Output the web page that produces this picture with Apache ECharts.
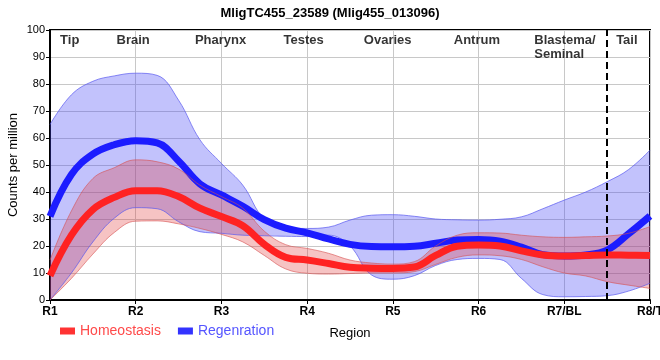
<!DOCTYPE html>
<html><head><meta charset="utf-8">
<script src="https://cdn.jsdelivr.net/npm/echarts@6/dist/echarts.min.js"></script>
<style>html,body{margin:0;padding:0;background:#fff}#c{width:660px;height:360px}</style>
</head><body><div id="c"></div>
<script>
const titleText = 'MligTC455_23589 (Mlig455_013096)';
const xTickLabels = ['R1','R2','R3','R4','R5','R6','R7/BL','R8/T'];
const xPos = [0,0.25,0.5,0.75,1,1.25,1.5,1.75,2,2.25,2.5,2.75,3,3.25,3.5,3.75,4,4.25,4.5,4.75,5,5.25,5.5,5.75,6,6.25,6.5,6.75,7];

const homeoMean  = [9,24,33.5,38,40.5,40.5,38.3,34,30.9,27.5,20.6,15.8,14.8,13.5,12.1,11.8,11.7,12.2,16.5,19.9,20.4,20,18.2,16.7,16.3,16.5,16.7,16.6,16.5];
const homeoUpper = [14.8,33,45,49,51.9,51.2,48.5,42.5,38.3,34,25.5,20.5,19.1,17.3,14.8,13.7,13.3,14.2,20,24,24.9,24.8,24,23.4,23.2,23.4,23.7,24.7,27.2];
const homeoLower = [0,8,17,25,29.2,29.3,28.2,26.5,24.3,21.5,16.5,11.5,9.9,9.6,9.8,10,10,10.5,13.2,15.8,16.7,16.4,15,12.3,10,8.9,6.8,5.5,4.3];

const regenMean  = [31,46.5,54,57.5,59,58.2,51.5,43,38.9,34.7,29.8,26.6,24.9,22.6,20.6,19.8,19.7,19.9,21,22.2,22.4,21.8,19.6,16.8,16.3,16.7,18.5,24.5,31.1];
const regenUpper = [65,76,81,83,84,83.2,74,59.3,50.6,42.5,30,27,26.5,27,29.6,31.4,31.6,31,30,29.7,29.6,29.9,30.8,33.8,37,40,43.8,48.3,55.5];
const regenLower = [0,10,21.5,30.3,34.2,33.8,29,25.3,24.7,24,23.8,23.6,23.5,24,20,9.3,7.7,9,12.8,15,15.4,15,8,2,1.2,1.3,1.6,3.3,6.2];

const regionNames = ['Tip','Brain','Pharynx','Testes','Ovaries','Antrum','Blastema/\nSeminal','Tail'];
const regionX = [0.23,0.97,1.99,2.96,3.94,4.98,5.65,6.73];
const regionY = [96.3,96.3,96.3,96.3,96.3,96.3,98.9,96.3];
const boundaryX = 6.5;

const cats = xPos.map(String);
const diff = (u,l) => u.map((v,i)=>+(v - l[i]).toFixed(2));

const RED = '#ff2222', BLUE = '#1c1cff';
const RECT = 'path://M0,0H15V7H0Z';

function band(name, lower, upper, stack, fill, edge){
  return [
    {name: name, type:'line', stack: stack, data: lower, smooth:0.4, symbol:'none',
     lineStyle:{width:1, color:edge}, areaStyle:{opacity:0}, silent:true},
    {name: name, type:'line', stack: stack, data: diff(upper,lower), smooth:0.4, symbol:'none',
     lineStyle:{width:1, color:edge}, areaStyle:{color:fill}, silent:true}
  ];
}

const isMajor = (idx) => Number.isInteger(xPos[idx]);

const chart = echarts.init(document.getElementById('c'));
const option = {
  animation:false,
  backgroundColor:'#fff',
  title:{text:titleText, left:'center', top:2,
    textStyle:{fontFamily:'Liberation Sans', fontWeight:'bold', fontSize:13, color:'#000'}},
  legend:{
    left:55, top:319, icon:RECT, itemWidth:15, itemHeight:7, itemGap:17,
    textStyle:{fontFamily:'Liberation Sans', fontSize:14},
    itemStyle:{borderWidth:0}, lineStyle:{width:0, opacity:0},
    data:[
      {name:'Homeostasis', icon:RECT, itemStyle:{color:'#ff3333', borderWidth:0}, textStyle:{color:'#ff4a4a'}},
      {name:'Regenration', icon:RECT, itemStyle:{color:'#3333ff', borderWidth:0}, textStyle:{color:'#5555ff'}}
    ]
  },
  grid:{left:50, right:10, top:30, bottom:60, show:true, borderColor:'#000', borderWidth:2,
    containLabel:false, outerBoundsMode:'none'},
  xAxis:[{type:'category', data:cats, boundaryGap:false,
    name:'Region', nameLocation:'middle', nameGap:27, nameMoveOverlap:false,
    nameTextStyle:{fontFamily:'Liberation Sans', fontSize:13, color:'#000'},
    axisLine:{show:true, lineStyle:{color:'#000', width:2}},
    axisTick:{show:true, length:4, interval:(i)=>isMajor(i), lineStyle:{color:'#000'}},
    axisLabel:{interval:(i)=>isMajor(i), formatter:(v)=>xTickLabels[Math.round(+v)]||'', fontFamily:'Liberation Sans', fontWeight:'bold', fontSize:12, color:'#000', margin:6},
    splitLine:{show:true, interval:(i)=>isMajor(i), lineStyle:{color:'#c8c8c8', width:1}}
  },{type:'value', min:0, max:7, show:false}],
  yAxis:{type:'value', min:0, max:100, interval:10,
    name:'Counts per million', nameLocation:'middle', nameGap:30, nameMoveOverlap:false,
    nameTextStyle:{fontFamily:'Liberation Sans', fontSize:13, color:'#000'},
    axisLine:{show:true, lineStyle:{color:'#000', width:2}},
    axisTick:{show:true, length:4, lineStyle:{color:'#000'}},
    axisLabel:{fontFamily:'Liberation Sans', fontSize:11, color:'#000', margin:5},
    splitLine:{show:true, lineStyle:{color:'#c8c8c8', width:1}}
  },
  series:[
    ...band('Regenration', regenLower, regenUpper, 'rb', 'rgba(70,70,245,0.47)', 'rgba(90,90,240,0.7)'),
    {name:'Regenration', type:'line', data:regenMean, smooth:0.4, symbol:'none',
     lineStyle:{width:7, color:BLUE}, itemStyle:{color:BLUE}},
    ...band('Homeostasis', homeoLower, homeoUpper, 'hb', 'rgba(225,50,50,0.42)', 'rgba(215,80,80,0.6)'),
    {name:'Homeostasis', type:'line', data:homeoMean, smooth:0.4, symbol:'none',
     lineStyle:{width:7, color:RED}, itemStyle:{color:RED},
     markLine:{silent:true, symbol:'none', label:{show:false},
       lineStyle:{color:'#000', width:2, type:[7,4]},
       data:[{xAxis:String(boundaryX)}]}},
    {name:'labels', type:'scatter', xAxisIndex:1, symbolSize:0, silent:true,
     data: regionNames.map((n,i)=>{
       const left = n.indexOf('\n')>=0;
       return {value:[regionX[i], regionY[i]], name:n,
         label:{show:true, formatter:n, position:[0,0],
           align: left?'left':'center', verticalAlign: left?'top':'middle',
           lineHeight:14, fontFamily:'Liberation Sans', fontWeight:'bold', fontSize:13, color:'#000'}};
     })}
  ]
};
chart.setOption(option);
</script>
</body></html>
